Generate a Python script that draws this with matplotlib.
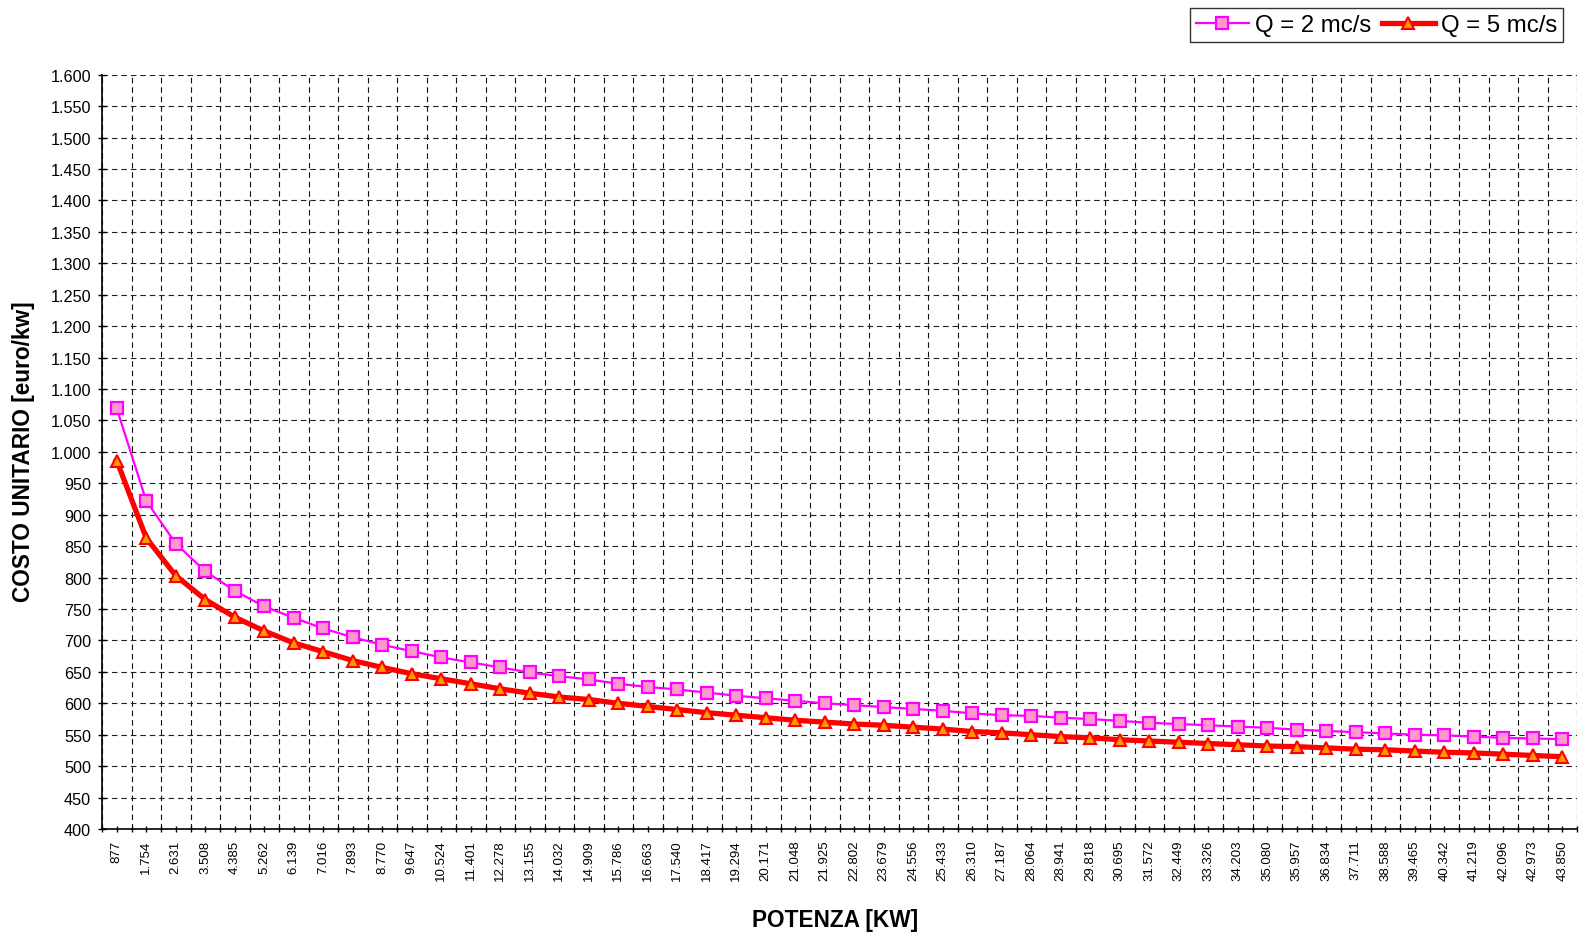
import matplotlib
matplotlib.use("Agg")
import matplotlib.pyplot as plt
import numpy as np
from matplotlib.ticker import FixedLocator, FuncFormatter, MultipleLocator

plt.rcParams['font.family'] = ['Liberation Sans', 'DejaVu Sans']
plt.rcParams['lines.scale_dashes'] = False

potenza = [877, 1754, 2631, 3508, 4385, 5262, 6139, 7016, 7893, 8770,
           9647, 10524, 11401, 12278, 13155, 14032, 14909, 15786, 16663, 17540,
           18417, 19294, 20171, 21048, 21925, 22802, 23679, 24556, 25433, 26310,
           27187, 28064, 28941, 29818, 30695, 31572, 32449, 33326, 34203, 35080,
           35957, 36834, 37711, 38588, 39465, 40342, 41219, 42096, 42973, 43850]

q2 = [1069, 922, 854, 810, 779, 754, 736, 719, 705, 693,
      683, 673, 665, 657, 649, 643, 638, 631, 626, 622,
      617, 612, 608, 604, 600, 597, 594, 591, 588, 584,
      581, 580, 577, 575, 572, 569, 567, 565, 563, 561,
      558, 556, 554, 552, 550, 549, 547, 545, 544, 543]

q5 = [986, 863, 803, 765, 737, 715, 696, 682, 668, 657,
      647, 639, 631, 623, 616, 610, 606, 600, 595, 590,
      585, 581, 577, 573, 570, 567, 565, 562, 559, 555,
      553, 550, 547, 545, 542, 540, 538, 536, 534, 532,
      531, 529, 527, 526, 524, 522, 521, 519, 517, 515]


def dot_thousands(v, pos=None):
    return f"{v:,.0f}".replace(",", ".")


fig = plt.figure(figsize=(15.79, 9.45), dpi=100)
ax = fig.add_axes([102 / 1579, 1 - 830 / 945, 1475 / 1579, (830 - 75.7) / 945])

x = np.arange(len(potenza))
ax.plot(x, q2, color='#FF00FF', lw=1.6, marker='s', ms=8,
        mfc='#FF99CC', mec='#FF00FF', mew=1.6, label='Q = 2 mc/s', zorder=3)
ax.plot(x, q5, color='#FF0000', lw=3.8, marker='^', ms=9,
        mfc='#FF9900', mec='#FF0000', mew=1.5, label='Q = 5 mc/s', zorder=4)

ax.set_xlim(-0.5, len(potenza) - 0.5)
ax.set_ylim(400, 1600)

ax.set_xticks(x)
ax.set_xticklabels([dot_thousands(p) for p in potenza], rotation=90, fontsize=9.5)
ax.xaxis.set_minor_locator(FixedLocator(np.arange(-0.5, len(potenza), 1.0)))
ax.yaxis.set_major_locator(MultipleLocator(50))
ax.yaxis.set_major_formatter(FuncFormatter(dot_thousands))
ax.tick_params(axis='y', labelsize=11.7, direction='inout', length=6, width=1, pad=5)
ax.tick_params(axis='x', which='both', direction='inout', length=4, width=1, pad=5.5)

ax.set_axisbelow(True)
ax.grid(True, which='major', axis='y', color='#222222', lw=0.8, linestyle=(0, (4, 2.8)))
ax.grid(True, which='minor', axis='x', color='#111111', lw=0.8, linestyle=(0, (4, 2.8)))

ax.spines['top'].set_visible(False)
ax.spines['right'].set_visible(False)
ax.spines['left'].set_linewidth(1.2)
ax.spines['bottom'].set_linewidth(1.2)

fig.text(24 / 1579, 1 - 452 / 945, 'COSTO UNITARIO [euro/kw]', rotation=90,
         ha='center', va='center', fontsize=16.3, fontweight='bold')
fig.text(835 / 1579, 1 - 921 / 945, 'POTENZA [KW]',
         ha='center', va='center', fontsize=16.3, fontweight='bold')

leg = fig.legend(loc='upper right', bbox_to_anchor=(1563 / 1579, 1 - 9 / 945),
                 ncol=2, fontsize=17.3, frameon=True, fancybox=False,
                 handlelength=2.2, handletextpad=0.25, columnspacing=0.45,
                 borderpad=0.25, borderaxespad=0)
leg.get_frame().set_edgecolor('black')
leg.get_frame().set_linewidth(1.0)

fig.savefig('out.png', dpi=100)
